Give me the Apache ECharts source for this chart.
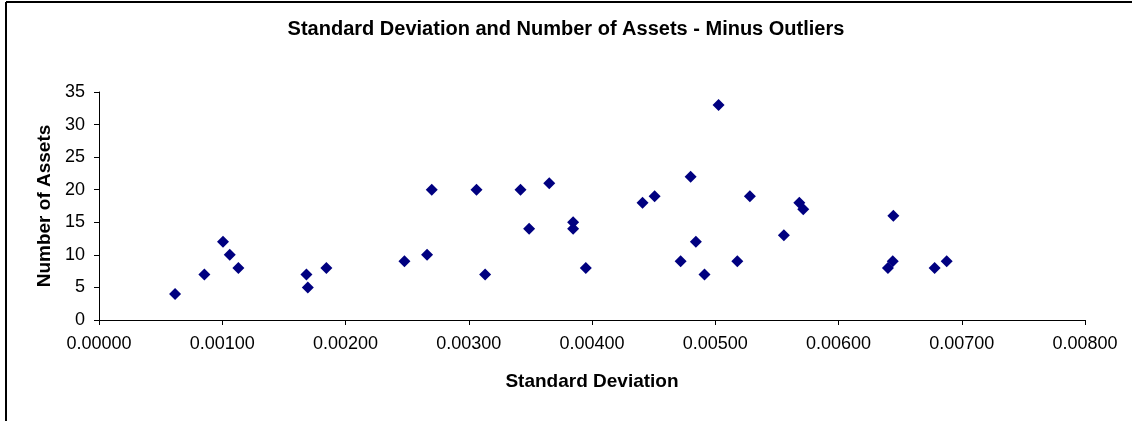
<!DOCTYPE html>
<html>
<head>
<meta charset="utf-8">
<script src="https://cdn.jsdelivr.net/npm/echarts@6/dist/echarts.min.js"></script>
<style>
html,body{margin:0;padding:0;background:#fff;}
#chart{width:1132px;height:421px;}
</style>
</head>
<body>
<div id="chart"></div>
<script>
const stdDev = [0.000617,0.000855,0.001006,0.001061,0.001131,0.001683,0.001694,0.001845,
  0.002478,0.002662,0.002700,0.003063,0.003133,0.003420,0.003490,0.003653,0.003847,0.003847,0.003950,
  0.004410,0.004508,0.004719,0.004800,0.004843,0.004913,0.005027,0.005179,0.005281,
  0.005557,0.005682,0.005714,0.006401,0.006440,0.006445,0.006780,0.006878];
const numAssets = [4,7,12,10,8,7,5,8,
  9,10,20,20,7,20,14,21,15,14,8,
  18,19,9,22,12,7,33,9,19,
  13,18,17,8,9,16,8,9];
const titleText = 'Standard Deviation and Number of Assets - Minus Outliers';
const xName = 'Standard Deviation';
const yName = 'Number of Assets';

const points = stdDev.map((v,i)=>[v, numAssets[i]]);
const chart = echarts.init(document.getElementById('chart'), null, {renderer:'canvas'});
const font = 'Liberation Sans, Arial, sans-serif';
chart.setOption({
  animation:false,
  backgroundColor:'#fff',
  title:{text:titleText,left:'center',top:14,textStyle:{fontFamily:font,fontSize:20,fontWeight:'bold',color:'#000'}},
  graphic:[
    {type:'line',shape:{x1:6,y1:2,x2:1132,y2:2},style:{stroke:'#000',lineWidth:2}},
    {type:'line',shape:{x1:6,y1:2,x2:6,y2:421},style:{stroke:'#000',lineWidth:2}}
  ],
  grid:{left:99,right:47,top:92,bottom:101,containLabel:false},
  xAxis:{type:'value',min:0,max:0.008,interval:0.001,
    name:xName,nameLocation:'middle',nameGap:52,
    nameTextStyle:{fontFamily:font,fontSize:19,fontWeight:'bold',color:'#000'},
    axisLine:{lineStyle:{color:'#000',width:1}},
    axisTick:{show:true,length:5,inside:false,lineStyle:{color:'#000'}},
    splitLine:{show:false},
    axisLabel:{fontFamily:font,fontSize:18,color:'#000',margin:15,formatter:v=>v.toFixed(5)}},
  yAxis:{type:'value',min:0,max:35,interval:5,
    name:yName,nameLocation:'middle',nameGap:45,
    nameTextStyle:{fontFamily:font,fontSize:19,fontWeight:'bold',color:'#000',padding:[0,0,0,0]},
    axisLine:{show:true,lineStyle:{color:'#000',width:1}},
    axisTick:{show:true,length:5,lineStyle:{color:'#000'}},
    splitLine:{show:false},
    axisLabel:{fontFamily:font,fontSize:18,color:'#000',margin:14}},
  series:[{type:'scatter',data:points,symbol:'diamond',symbolSize:12,
    itemStyle:{color:'#000080',opacity:1}}]
});
</script>
</body>
</html>
